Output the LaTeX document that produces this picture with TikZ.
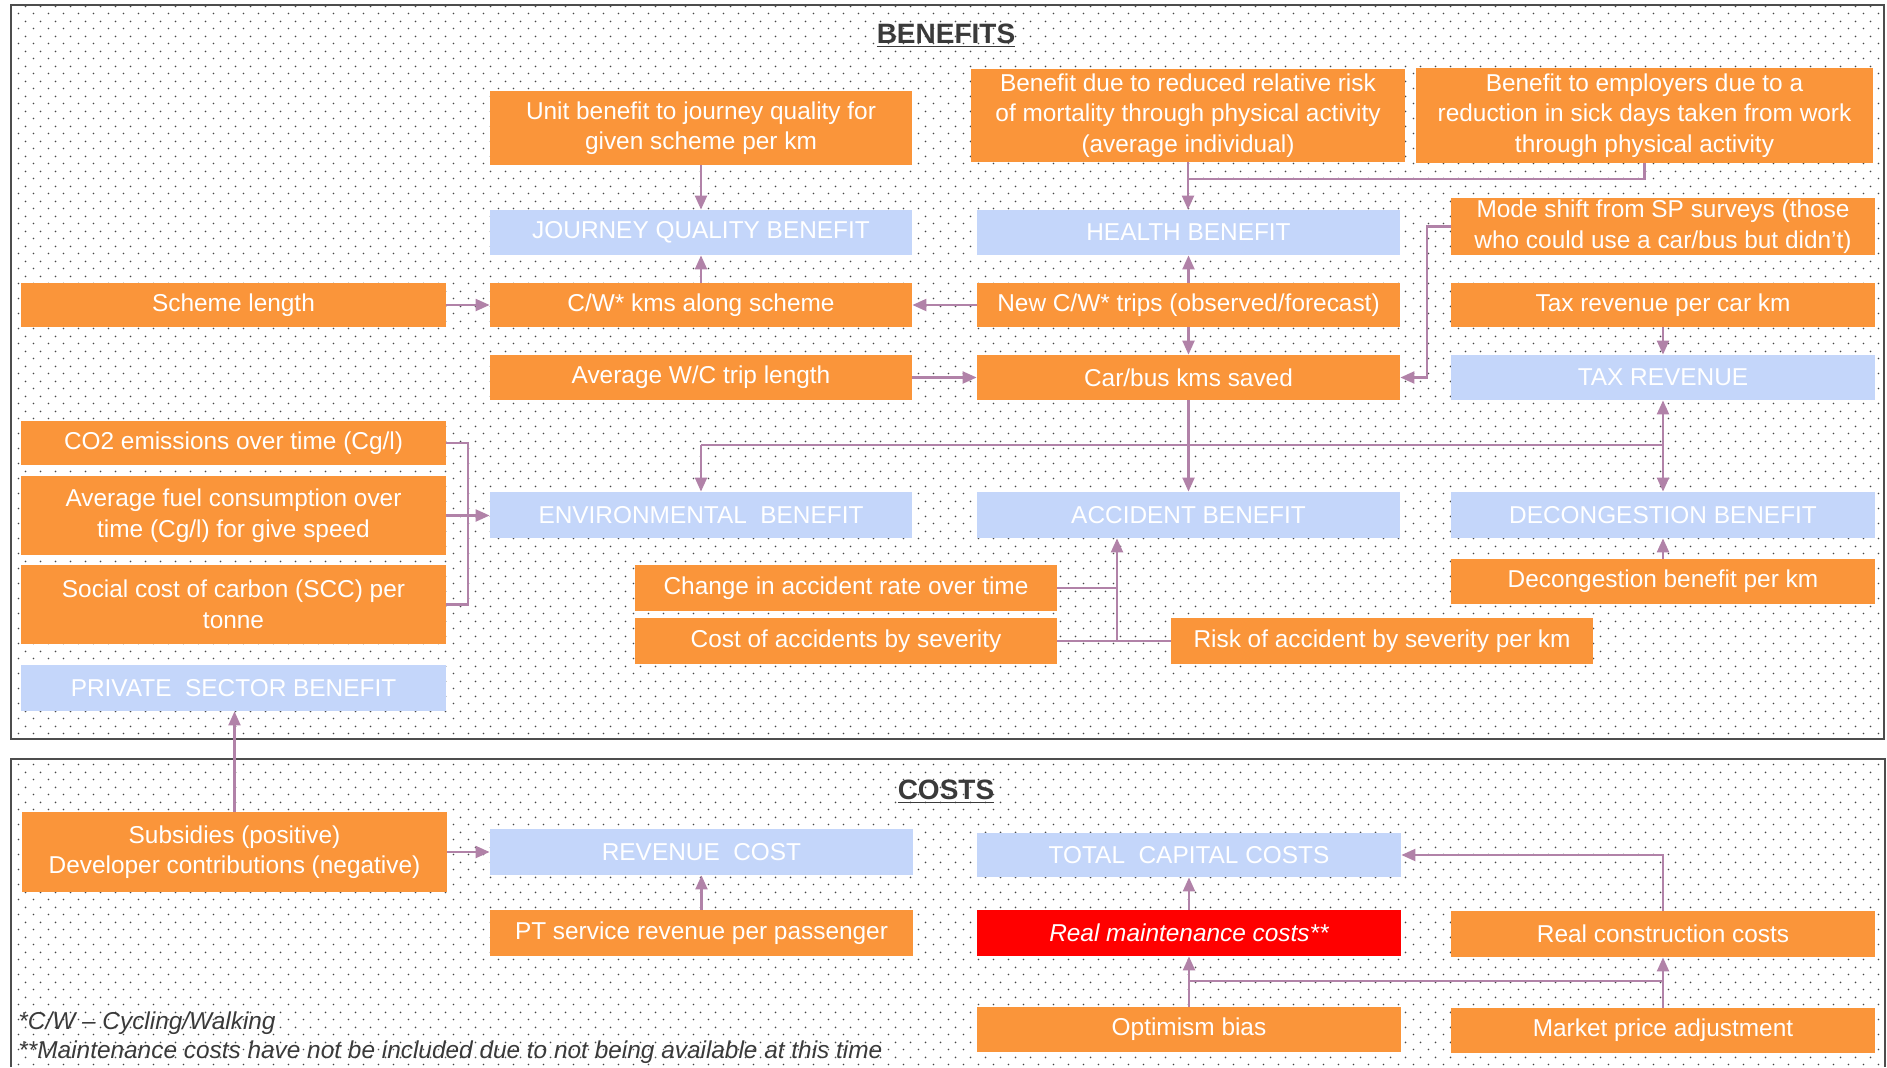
\documentclass[tikz,border=0pt]{standalone}
\usepackage{fontspec}
\setmainfont{Liberation Sans}
\usetikzlibrary{arrows.meta,patterns,calc}
\definecolor{org}{HTML}{FA953A}
\definecolor{lblue}{HTML}{C4D6FA}
\definecolor{arrc}{HTML}{B182A8}
\definecolor{frm}{HTML}{4D4D4D}
\definecolor{dotc}{HTML}{474747}
\definecolor{ttl}{HTML}{3A3A3A}
\pgfdeclarepatternformonly{bgdots}{\pgfqpoint{0pt}{0pt}}{\pgfqpoint{7.5pt}{7.5pt}}{\pgfqpoint{7.5pt}{7.5pt}}{%
 \pgfpathcircle{\pgfqpoint{1.875pt}{1.875pt}}{0.5pt}%
 \pgfpathcircle{\pgfqpoint{5.625pt}{5.625pt}}{0.5pt}%
 \pgfusepath{fill}}
\tikzset{
 sz/.style 2 args={minimum width=#1*0.5pt, minimum height=#2*0.5pt},
 bx/.style={inner sep=0pt, align=center, text=white, font=\fontsize{12.2}{15.25}\selectfont},
 ob/.style={bx, fill=org},
 bb/.style={bx, fill=lblue},
 rb/.style={bx, fill=red, font=\fontsize{12.2}{15.25}\selectfont\itshape},
 arr/.style={draw=arrc, line width=1.1pt, -{Triangle[length=7pt,width=6pt]}},
 ln/.style={draw=arrc, line width=1.1pt},
 ttlstyle/.style={font=\fontsize{14}{16}\selectfont\bfseries, text=ttl, inner sep=0pt},
 fnstyle/.style={anchor=west, font=\fontsize{12.2}{14}\selectfont\itshape, text=ttl, inner sep=0pt},
}
\begin{document}
\begin{tikzpicture}[x=0.5pt,y=-0.5pt]
\useasboundingbox (0,0) rectangle (1887,1067);
\fill[white] (0,0) rectangle (1887,1067);
% frames
\fill[pattern=bgdots, pattern color=dotc] (11,5) rectangle (1884,739);
\draw[frm, line width=1pt] (11,5) rectangle (1884,739);
\fill[pattern=bgdots, pattern color=dotc] (11,759) rectangle (1885,1067);
\draw[frm, line width=1pt] (11,1067) -- (11,759) -- (1885,759) -- (1885,1067);
% titles
\node[ttlstyle] (tben) at (946,36) {\underline{BENEFITS}};
\node[ttlstyle] (tcos) at (946,792) {\underline{COSTS}};
% benefit nodes
\node[ob, sz={422}{74}] (unit) at (701,128) {Unit benefit to journey quality for\\given scheme per km};
\node[bb, sz={422}{45}] (jqb) at (701,232.5) {JOURNEY QUALITY BENEFIT};
\node[ob, sz={434}{93}] (bdr) at (1188,115.5) {Benefit due to reduced relative risk\\of mortality through physical activity\\(average individual)};
\node[ob, sz={457}{95}] (bte) at (1644.5,115.5) {Benefit to employers due to a\\reduction in sick days taken from work\\through physical activity};
\node[bb, sz={423}{45}] (hb) at (1188.5,232.5) {HEALTH BENEFIT};
\node[ob, sz={424}{57}] (mode) at (1663,226.5) {Mode shift from SP surveys (those\\who could use a car/bus but didn’t)};
\node[ob, sz={425}{44}] (slen) at (233.5,305) {Scheme length};
\node[ob, sz={422}{44}] (cwk) at (701,305) {C/W* kms along scheme};
\node[ob, sz={423}{44}] (ncw) at (1188.5,305) {New C/W* trips (observed/forecast)};
\node[ob, sz={424}{44}] (trck) at (1663,305) {Tax revenue per car km};
\node[ob, sz={422}{45}] (awc) at (701,377.5) {Average W/C trip length};
\node[ob, sz={423}{45}] (cbk) at (1188.5,377.5) {Car/bus kms saved};
\node[bb, sz={424}{45}] (taxr) at (1663,377.5) {TAX REVENUE};
\node[ob, sz={425}{44}] (co2) at (233.5,443) {CO2 emissions over time (Cg/l)};
\node[ob, sz={425}{79}] (afc) at (233.5,515.5) {Average fuel consumption over\\time (Cg/l) for give speed};
\node[ob, sz={425}{79}] (scc) at (233.5,604.5) {Social cost of carbon (SCC) per\\tonne};
\node[bb, sz={425}{46}] (psb) at (233.5,688) {PRIVATE~ SECTOR BENEFIT};
\node[bb, sz={422}{46}] (env) at (701,515) {ENVIRONMENTAL~ BENEFIT};
\node[bb, sz={423}{46}] (acc) at (1188.5,515) {ACCIDENT BENEFIT};
\node[bb, sz={424}{46}] (dec) at (1663,515) {DECONGESTION BENEFIT};
\node[ob, sz={424}{45}] (dbk) at (1663,581.5) {Decongestion benefit per km};
\node[ob, sz={422}{46}] (chg) at (846,588) {Change in accident rate over time};
\node[ob, sz={422}{46}] (cost) at (846,641) {Cost of accidents by severity};
\node[ob, sz={422}{46}] (risk) at (1382,641) {Risk of accident by severity per km};
% cost nodes
\node[ob, sz={425}{80}] (subs) at (234.5,852) {Subsidies (positive)\\Developer contributions (negative)};
\node[bb, sz={423}{46}] (rev) at (701.5,852) {REVENUE~ COST};
\node[ob, sz={423}{46}] (pt) at (701.5,933) {PT service revenue per passenger};
\node[bb, sz={424}{44}] (tcc) at (1189,855) {TOTAL~ CAPITAL COSTS};
\node[rb, sz={424}{46}] (rmc) at (1189,933) {Real maintenance costs**};
\node[ob, sz={424}{46}] (rcc) at (1663,934) {Real construction costs};
\node[ob, sz={424}{45}] (opt) at (1189,1029.5) {Optimism bias};
\node[ob, sz={424}{45}] (mpa) at (1663,1030.5) {Market price adjustment};
% footnotes
\node[fnstyle] (fn1) at (18,1023) {*C/W – Cycling/Walking};
\node[fnstyle] (fn2) at (18,1052) {**Maintenance costs have not be included due to not being available at this time};
% connectors
\draw[arr] (unit.south) -- (jqb.north);
\draw[arr] (cwk.north) -- (jqb.south);
\draw[arr] (slen.east) -- (cwk.west);
\draw[arr] (ncw.west) -- (cwk.east);
\draw[arr] (ncw.north) -- (hb.south);
\draw[arr] (ncw.south) -- (cbk.north);
\draw[arr] (awc.east) -- (cbk.west);
\draw[arr] (bdr.south) -- (bdr.south |- hb.north);
\coordinate (j1) at (1188,179);
\draw[ln] (bte.south) |- (j1);
\coordinate (m1) at (1427,226.5);
\draw[arr] (mode.west) -- (m1) |- (cbk.east);
\draw[arr] (trck.south) -- (taxr.north);
\draw[arr] (cbk.south) -- (acc.north);
\coordinate (hL) at (701,445);
\coordinate (hR) at (1663,445);
\draw[ln] (hL) -- (hR);
\draw[arr] (hL) -- (env.north);
\draw[arr] (hR) -- (taxr.south);
\draw[arr] (hR) -- (dec.north);
\draw[arr] (dbk.north) -- (dec.south);
\coordinate (bkt) at (468,443);
\coordinate (bkb) at (468,604.5);
\draw[ln] (co2.east) -- (bkt) -- (bkb) -- (scc.east);
\draw[arr] (afc.east) -- (afc.east -| env.west);
\coordinate (av) at (1117,641);
\draw[arr] (av) -- (av |- acc.south);
\draw[ln] (chg.east) -- (chg.east -| av);
\draw[ln] (cost.east) -- (risk.west);
\draw[arr] (subs.north) -- (subs.north |- psb.south);
\draw[arr] (subs.east) -- (subs.east -| rev.west);
\draw[arr] (pt.north) -- (rev.south);
\draw[arr] (rmc.north) -- (tcc.south);
\draw[arr] (rcc.north) |- (tcc.east);
\coordinate (cL) at (1189,981);
\coordinate (cR) at (1663,981);
\draw[ln] (cL) -- (cR);
\draw[arr] (opt.north) -- (rmc.south);
\draw[arr] (mpa.north) -- (rcc.south);
\end{tikzpicture}
\end{document}
